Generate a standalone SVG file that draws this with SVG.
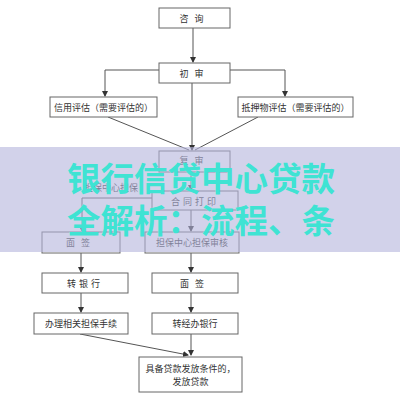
<svg xmlns="http://www.w3.org/2000/svg" width="400" height="400" viewBox="0 0 400 400">
<defs>
<marker id="ah" markerWidth="6" markerHeight="6" refX="5" refY="3" orient="auto" markerUnits="userSpaceOnUse">
<path d="M0,0 L6,3 L0,6 Z" fill="#333"/>
</marker>
<style>
.box{fill:#fff;stroke:#666;stroke-width:1}
.t{font-family:"Noto Sans CJK SC","Noto Sans",sans-serif;font-size:9px;fill:#333;text-anchor:middle;dominant-baseline:central}
.c{fill:none;stroke:#555;stroke-width:1}
.wm{font-family:"Noto Sans CJK SC","Noto Sans",sans-serif;font-weight:bold;font-size:33.5px;fill:#3fe3d3}
</style>
</defs>
<rect width="400" height="400" fill="#fff"/>
<g id="connectors">
<path class="c" d="M193,28 V62" marker-end="url(#ah)"/>
<path class="c" d="M159,70 H105 V96" marker-end="url(#ah)"/>
<path class="c" d="M230,70 H285 V96" marker-end="url(#ah)"/>
<path class="c" d="M192,83 V150" marker-end="url(#ah)"/>
<path class="c" d="M108,117 L189,150"/>
<path class="c" d="M258,117 L195,150"/>
<path class="c" d="M191,172 V190" marker-end="url(#ah)"/>
<path class="c" d="M152,198 H82 V231" marker-end="url(#ah)"/>
<path class="c" d="M191,210 V231" marker-end="url(#ah)"/>
<path class="c" d="M81,253 V272" marker-end="url(#ah)"/>
<path class="c" d="M191,253 V272" marker-end="url(#ah)"/>
<path class="c" d="M81,293 V312" marker-end="url(#ah)"/>
<path class="c" d="M191,293 V312" marker-end="url(#ah)"/>
<path class="c" d="M191,334 V355" marker-end="url(#ah)"/>
<path class="c" d="M80,334 L188,355" marker-end="url(#ah)"/>
</g>
<g id="n-zixun"><rect class="box" x="159" y="8" width="71" height="20"/><text class="t" x="194.5" y="18" letter-spacing="6">咨询</text></g>
<g id="n-chushen"><rect class="box" x="159" y="63" width="71" height="20"/><text class="t" x="194.5" y="73" letter-spacing="6">初审</text></g>
<g id="n-xinyong"><rect class="box" x="50" y="97" width="107" height="20"/><text class="t" x="103.5" y="107">信用评估（需要评估的）</text></g>
<g id="n-diya"><rect class="box" x="238" y="97" width="115" height="20"/><text class="t" x="295.5" y="107">抵押物评估（需要评估的）</text></g>
<g id="n-fushen"><rect class="box" x="159" y="151" width="71" height="21"/><text class="t" x="194.5" y="160" letter-spacing="6">复审</text></g>
<g id="n-hetong"><rect class="box" x="152" y="191" width="86" height="19"/><text class="t" x="195" y="201" letter-spacing="3">合同打印</text></g>
<g id="l-branch"><text class="t" x="111" y="187">担保中心担保</text></g>
<g id="n-mianqian1"><rect class="box" x="42" y="232" width="78" height="21"/><text class="t" x="81" y="242.5" letter-spacing="6">面签</text></g>
<g id="n-danbao"><rect class="box" x="145" y="232" width="94" height="21"/><text class="t" x="192" y="242.5">担保中心担保审核</text></g>
<g id="n-zhuanyinhang"><rect class="box" x="42" y="273" width="86" height="20"/><text class="t" x="85" y="283" letter-spacing="3">转银行</text></g>
<g id="n-mianqian2"><rect class="box" x="152" y="273" width="86" height="20"/><text class="t" x="195" y="283" letter-spacing="6">面签</text></g>
<g id="n-banli"><rect class="box" x="34" y="313" width="94" height="21"/><text class="t" x="81" y="323.5">办理相关担保手续</text></g>
<g id="n-zhuanjingban"><rect class="box" x="152" y="313" width="86" height="21"/><text class="t" x="195" y="323.5">转经办银行</text></g>
<g id="n-fafang"><rect class="box" x="139" y="357" width="103" height="35"/><text class="t" x="190.5" y="368">具备贷款发放条件的，</text><text class="t" x="190.5" y="381">发放贷款</text></g>
<rect x="0" y="147" width="400" height="105" fill="#b4b4dc" opacity="0.6"/>
<text class="wm" x="67" y="191">银行信贷中心贷款</text>
<text class="wm" x="67" y="233">全解析：流程、条</text>
</svg>
